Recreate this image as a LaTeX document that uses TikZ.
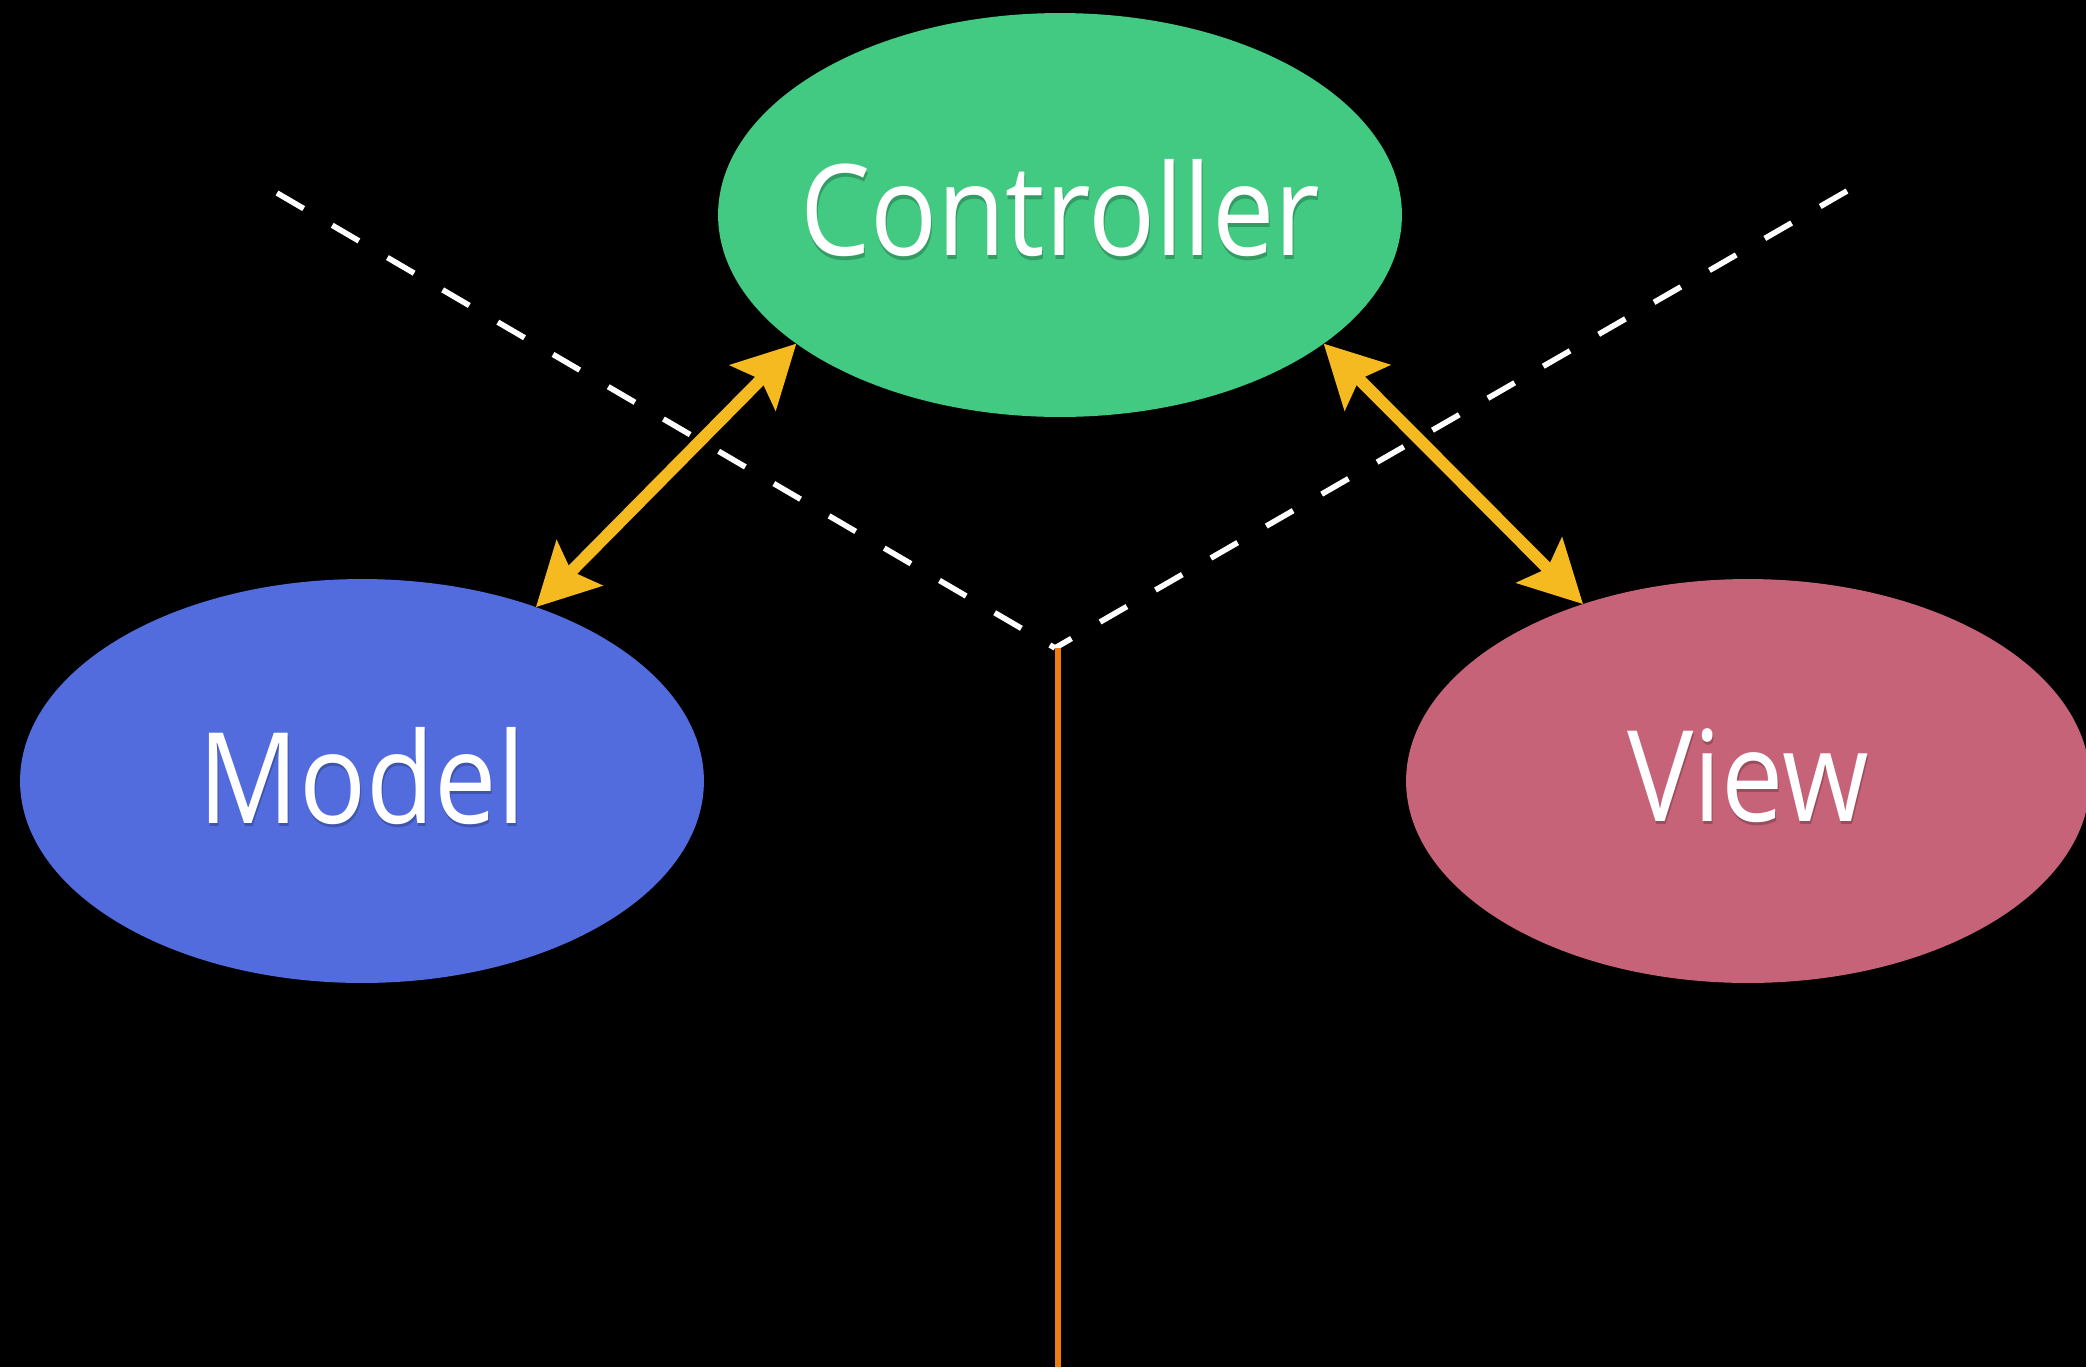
\documentclass[tikz,border=0pt]{standalone}
\usepackage{fontspec}
\setmainfont{Open Sans}
\newfontfamily\lblfont[FakeStretch=0.88]{Open Sans}
\usetikzlibrary{shapes.geometric,arrows.meta}
\definecolor{ctrlgreen}{RGB}{66,201,130}
\definecolor{modelblue}{RGB}{82,108,222}
\definecolor{viewpink}{RGB}{198,99,120}
\definecolor{arrowyellow}{RGB}{245,186,31}
\definecolor{lineorange}{RGB}{238,124,21}
\tikzset{
  blob/.style={ellipse, inner sep=0pt, outer sep=0pt, minimum width=13.68cm, minimum height=8.08cm},
  lbl/.style={text=white, font=\lblfont\fontsize{72}{84}\selectfont, inner sep=0pt},
  shade/.style={text=black, opacity=0.22, font=\lblfont\fontsize{72}{84}\selectfont, inner sep=0pt},
  sep/.style={white, line width=3.2pt, dash pattern=on 17.6pt off 18.8pt},
  twoway/.style={arrowyellow, line width=6.8pt,
    {Stealth[length=35pt, width=36pt, inset=6.3pt]}-{Stealth[length=35pt, width=36pt, inset=6.3pt]}},
  axis/.style={lineorange, line width=3.4pt}
}
\begin{document}
\begin{tikzpicture}[x=0.02cm, y=-0.02cm]
  \fill[black] (0,0) rectangle (2086,1367);
  \useasboundingbox (0,0) rectangle (2086,1367);
  \node[blob, fill=ctrlgreen] (ctrl) at (1060,215) {};
  \node[blob, fill=modelblue] (model) at (362,781) {};
  \node[blob, fill=viewpink] (view) at (1748,781) {};
  \node[shade] (ctrlshade) at (1061,212) {Controller};
  \node[shade] (modelshade) at (363,779) {Model};
  \node[shade] (viewshade) at (1749,779) {View};
  \node[lbl] (ctrltext) at (1060,208) {Controller};
  \node[lbl] (modeltext) at (362,776) {Model};
  \node[lbl] (viewtext) at (1748,776) {View};
  \coordinate (vtx) at (1055,648);
  \coordinate (lend) at (277,193);
  \coordinate (rend) at (1847,191);
  \coordinate (top) at (1058,648);
  \coordinate (bot) at (1058,1367);
  \draw[sep] (lend) -- (vtx);
  \draw[sep] (rend) -- (vtx);
  \draw[axis] (top) -- (bot);
  \draw[twoway] (ctrl.206) -- (model.45);
  \draw[twoway] (ctrl.334) -- (view.133);
\end{tikzpicture}
\end{document}
